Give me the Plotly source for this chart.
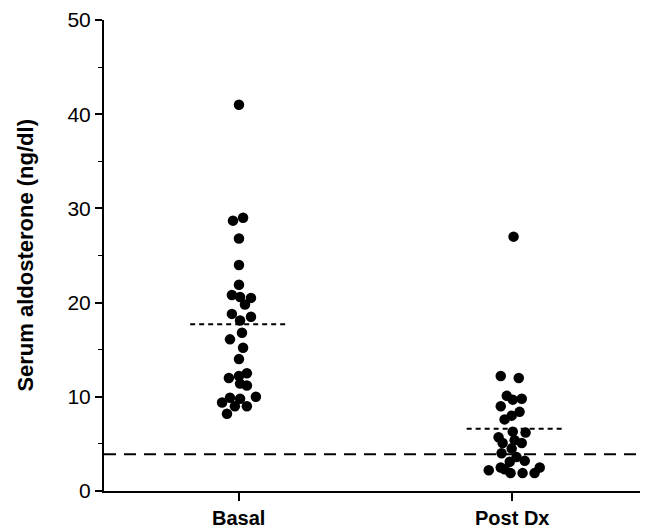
import plotly.graph_objects as go

categories = ["Basal", "Post Dx"]
basal_values = [41.0, 29.0, 28.7, 26.8, 24.0, 21.9, 20.8, 20.6, 20.5, 19.8,
                18.8, 18.5, 18.1, 16.8, 16.1, 15.2, 14.0, 12.0, 12.2, 12.5,
                11.4, 11.2, 9.9, 9.8, 10.0, 9.4, 9.0, 9.0, 8.2]
basal_offsets = [0.0, 0.015, -0.022, 0.0, 0.0, 0.0, -0.026, 0.004, 0.044, 0.022,
                 -0.026, 0.044, 0.004, 0.011, -0.033, 0.015, 0.0, -0.037, 0.0, 0.029,
                 0.004, 0.029, -0.033, 0.004, 0.062, -0.062, -0.015, 0.029, -0.044]
postdx_values = [27.0, 12.2, 12.0, 10.1, 9.7, 9.8, 9.0, 8.4, 8.0, 7.6,
                 6.3, 6.2, 5.7, 5.1, 5.4, 5.1, 4.5, 4.0, 3.6, 3.2, 3.1,
                 2.2, 2.5, 1.9, 1.9, 1.9, 2.5, 2.3]
postdx_offsets = [0.007, -0.04, 0.026, -0.018, 0.004, 0.037, -0.04, 0.029, 0.0, -0.026,
                  0.004, 0.051, -0.048, -0.033, 0.011, 0.037, 0.0, -0.037, 0.018, 0.048, -0.007,
                  -0.084, -0.04, -0.004, 0.04, 0.084, 0.103, -0.026]
group_means = [17.7, 6.6]
reference_level = 3.9
y_ticks = [0, 10, 20, 30, 40, 50]

FONT = "Liberation Sans, Arial, Helvetica, sans-serif"

fig = go.Figure()
for i, (vals, offs) in enumerate([(basal_values, basal_offsets), (postdx_values, postdx_offsets)]):
    fig.add_trace(go.Scatter(
        x=[i + 1 + o for o in offs], y=vals, mode="markers",
        marker=dict(color="black", size=10.5, line=dict(width=0)),
        showlegend=False, hoverinfo="skip"))

# group mean lines
mean_spans = [(0.821, 1.179), (1.835, 2.187)]
for m, (x0, x1) in zip(group_means, mean_spans):
    fig.add_shape(type="line", xref="x", yref="y", x0=x0, x1=x1, y0=m, y1=m,
                  line=dict(color="black", width=2, dash="5px,4px"))

# reference level line
fig.add_shape(type="line", xref="paper", yref="y", x0=0, x1=1,
              y0=reference_level, y1=reference_level,
              line=dict(color="black", width=2, dash="12px,8px"))

# category labels
for i, c in enumerate(categories):
    fig.add_annotation(x=i + 1, xref="x", y=-0.057, yref="paper",
                       text="<b>%s</b>" % c, showarrow=False,
                       xanchor="center", yanchor="middle", borderpad=0,
                       font=dict(size=20, family=FONT, color="black"))

# y-axis title
fig.add_annotation(x=-0.145, xref="paper", y=0.5, yref="paper",
                   text="<b>Serum aldosterone (ng/dl)</b>", showarrow=False,
                   textangle=-90, xanchor="center", yanchor="middle",
                   font=dict(size=22, family=FONT, color="black"))

# the page body adds an 8px offset, so the figure is 8px smaller on each side
fig.update_layout(
    width=640, height=522,
    margin=dict(l=96, r=0, t=12, b=39),
    paper_bgcolor="white", plot_bgcolor="white",
    font=dict(family=FONT, color="black"),
    xaxis=dict(range=[0.505, 2.5], tickmode="array", tickvals=[1, 2],
               showticklabels=False,
               ticks="outside", ticklen=8, tickwidth=2, tickcolor="black",
               showline=True, linecolor="black", linewidth=2,
               showgrid=False, zeroline=False),
    yaxis=dict(range=[0, 50], tickmode="array", tickvals=y_ticks,
               ticks="outside", ticklen=7, tickwidth=2, tickcolor="black",
               showline=True, linecolor="black", linewidth=2,
               showgrid=False, zeroline=False,
               minor=dict(dtick=5, ticks="outside", ticklen=4, tickwidth=1, tickcolor="black"),
               tickfont=dict(size=21, family=FONT, color="black")),
)

fig.write_html("out.html")
